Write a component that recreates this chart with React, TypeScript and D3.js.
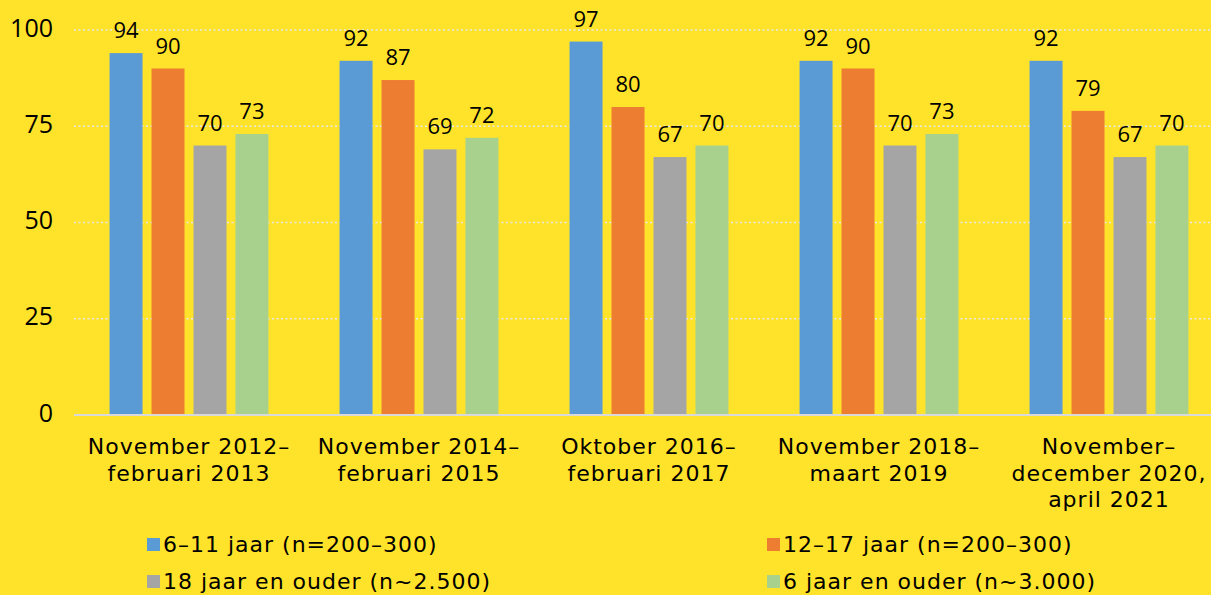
import React, { useRef, useEffect } from "react";
import * as d3 from "d3";

const periods = [
  ["November 2012–", "februari 2013"],
  ["November 2014–", "februari 2015"],
  ["Oktober 2016–", "februari 2017"],
  ["November 2018–", "maart 2019"],
  ["November–", "december 2020,", "april 2021"],
];
const seriesNames = [
  "6–11 jaar (n=200–300)",
  "12–17 jaar (n=200–300)",
  "18 jaar en ouder (n~2.500)",
  "6 jaar en ouder (n~3.000)",
];
const kids6to11 = [94, 92, 97, 92, 92];
const teens12to17 = [90, 87, 80, 90, 79];
const adults18plus = [70, 69, 67, 70, 67];
const all6plus = [73, 72, 70, 73, 70];
const yTicks = [0, 25, 50, 75, 100];
const colors = ["#5B9BD5", "#ED7D31", "#A5A5A5", "#A9D18E"];

export default function App() {
  const svgRef = useRef<SVGSVGElement>(null);

  useEffect(() => {
    const svg = d3.select(svgRef.current);
    svg.selectAll("*").remove();
    const width = 1211, height = 595;
    const series = [kids6to11, teens12to17, adults18plus, all6plus];

    svg.append("rect").attr("width", width).attr("height", height).attr("fill", "#FFE32A");

    const x0 = d3.scaleBand<number>()
      .domain(d3.range(periods.length))
      .range([74, 1224])
      .paddingInner(0.27)
      .paddingOuter(0.135);
    // bars inside a group: step ~42px, bar ~33px
    const x1 = d3.scaleBand<number>()
      .domain(d3.range(series.length))
      .range([4.5, x0.bandwidth() - 4.5])
      .paddingInner(0.214)
      .paddingOuter(0);
    const y = d3.scaleLinear().domain([0, 100]).range([415, 30]);

    // gridlines
    svg.append("g").selectAll("line")
      .data(yTicks.filter(t => t > 0))
      .enter().append("line")
      .attr("x1", 74).attr("x2", width)
      .attr("y1", d => y(d)).attr("y2", d => y(d))
      .attr("stroke", "#E8E8E8")
      .attr("stroke-width", 1.5)
      .attr("stroke-dasharray", "2,2.5");

    // tick labels
    svg.append("g").selectAll("text")
      .data(yTicks)
      .enter().append("text")
      .attr("x", 53).attr("y", d => y(d))
      .attr("text-anchor", "end")
      .attr("dominant-baseline", "middle")
      .style("font-family", "'Open Sans', sans-serif")
      .style("font-size", "25px")
      .attr("fill", "#000")
      .text(d => d);

    // bars
    const groups = svg.append("g").selectAll("g")
      .data(periods.map((_, i) => i))
      .enter().append("g")
      .attr("transform", i => `translate(${x0(i)},0)`);

    groups.selectAll("rect")
      .data(i => series.map((s, k) => ({ k, v: s[i] })))
      .enter().append("rect")
      .attr("x", d => x1(d.k)!)
      .attr("y", d => y(d.v))
      .attr("width", x1.bandwidth())
      .attr("height", d => y(0) - y(d.v))
      .attr("fill", d => colors[d.k]);

    groups.selectAll("text")
      .data(i => series.map((s, k) => ({ k, v: s[i] })))
      .enter().append("text")
      .attr("x", d => x1(d.k)! + x1.bandwidth() / 2)
      .attr("y", d => y(d.v) - 15)
      .attr("text-anchor", "middle")
      .style("font-family", "'Open Sans', sans-serif")
      .style("font-size", "22px")
      .attr("fill", "#000")
      .text(d => d.v);

    // baseline
    svg.append("line")
      .attr("x1", 74).attr("x2", width)
      .attr("y1", y(0)).attr("y2", y(0))
      .attr("stroke", "#D9D9D9")
      .attr("stroke-width", 2);

    // category labels
    const cats = svg.append("g").selectAll("text")
      .data(periods)
      .enter().append("text")
      .attr("text-anchor", "middle")
      .style("font-family", "'DejaVu Sans', sans-serif")
      .style("font-size", "22px")
      .style("letter-spacing", "1px")
      .attr("fill", "#000");
    cats.each(function (lines, i) {
      const cx = x0(i)! + x0.bandwidth() / 2;
      d3.select(this).selectAll("tspan")
        .data(lines)
        .enter().append("tspan")
        .attr("x", cx)
        .attr("y", (_, j) => 454 + j * 26.5)
        .text(l => l);
    });

    // legend
    const legend = svg.append("g").selectAll("g")
      .data(seriesNames)
      .enter().append("g")
      .attr("transform", (_, i) => `translate(${i % 2 === 0 ? 147 : 767},${i < 2 ? 538 : 575})`);
    legend.append("rect")
      .attr("width", 13).attr("height", 13)
      .attr("fill", (_, i) => colors[i]);
    legend.append("text")
      .attr("x", 16).attr("y", 14)
      .style("font-family", "'DejaVu Sans', sans-serif")
      .style("font-size", "22px")
      .style("letter-spacing", "1px")
      .attr("fill", "#000")
      .text(d => d);
  }, []);

  return (
    <svg
      ref={svgRef}
      width={1211}
      height={595}
      style={{ position: "absolute", left: 0, top: 0, display: "block" }}
    />
  );
}
